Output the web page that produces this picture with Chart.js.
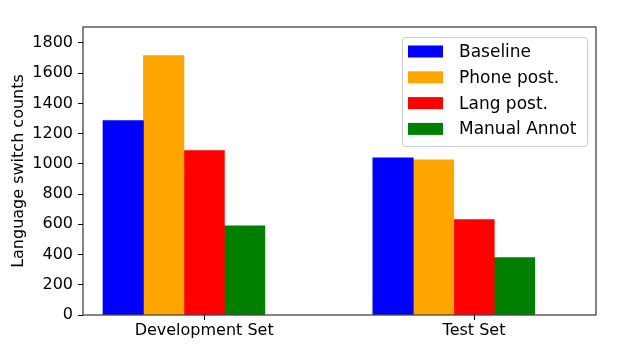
<!DOCTYPE html>
<html>
<head>
<meta charset="utf-8">
<script src="https://cdn.jsdelivr.net/npm/chart.js@4/dist/chart.umd.min.js"></script>
<style>
  html, body { margin: 0; padding: 0; background: #fff; }
</style>
</head>
<body>
<canvas id="grafica" width="628" height="358"></canvas>
<script>
// datos
const categorias = ["Development Set", "Test Set"];
const series = ["Baseline", "Phone post.", "Lang post.", "Manual Annot"];
const colores = ["#0000ff", "#ffa500", "#ff0000", "#008000"];
const baseline = [1286, 1039];
const phonePost = [1716, 1026];
const langPost = [1087, 631];
const manualAnnot = [589, 379];
const yTicks = [0, 200, 400, 600, 800, 1000, 1200, 1400, 1600, 1800];

const valores = [baseline, phonePost, langPost, manualAnnot];
const ancho = 0.15; // ancho de barra en unidades del eje x

Chart.defaults.font.family = "'DejaVu Sans', sans-serif";
Chart.defaults.font.size = 16;
Chart.defaults.color = "#000";

const datasets = series.map((nombre, i) => ({
    label: nombre,
    data: valores[i].map((v, j) => ({ x: j + (i - 2) * ancho, y: v })),
    backgroundColor: colores[i],
    borderWidth: 0,
    grouped: false,
    barPercentage: 1,
    categoryPercentage: 1
}));

// leyenda dentro del area, estilo matplotlib
const leyenda = {
    id: "leyenda",
    afterDatasetsDraw(chart) {
        const { ctx, chartArea } = chart;
        const w = 185, h = 109;
        const x0 = chartArea.right - 9 - w;
        const y0 = chartArea.top + 10;
        ctx.save();
        ctx.beginPath();
        ctx.roundRect(x0 + 0.5, y0 + 0.5, w, h, 3);
        ctx.fillStyle = "rgba(255,255,255,0.8)";
        ctx.fill();
        ctx.strokeStyle = "#cccccc";
        ctx.lineWidth = 1;
        ctx.stroke();
        ctx.font = "17px 'DejaVu Sans', sans-serif";
        ctx.textBaseline = "middle";
        chart.data.datasets.forEach((ds, k) => {
            const cy = y0 + 14.5 + k * 25.8;
            ctx.fillStyle = ds.backgroundColor;
            ctx.fillRect(x0 + 6, cy - 6, 35, 12);
            ctx.fillStyle = "#000";
            ctx.fillText(ds.label, x0 + 57, cy + 1);
        });
        // marco de los ejes
        ctx.strokeStyle = "#222";
        ctx.lineWidth = 1.1;
        ctx.strokeRect(chartArea.left, chartArea.top, chartArea.right - chartArea.left, chartArea.bottom - chartArea.top);
        ctx.restore();
    }
};

const ctx = document.getElementById("grafica").getContext("2d");
new Chart(ctx, {
    type: "bar",
    data: { datasets: datasets },
    options: {
        responsive: false,
        animation: false,
        layout: { padding: { top: 27, right: 32, left: 0, bottom: 0 } },
        plugins: {
            legend: { display: false },
            tooltip: { enabled: false }
        },
        scales: {
            x: {
                type: "linear",
                offset: false,
                min: -0.449,
                max: 1.452,
                afterBuildTicks: scale => {
                    scale.ticks = categorias.map((c, i) => ({ value: i }));
                },
                afterFit: scale => { scale.height = 43; },
                ticks: {
                    callback: v => categorias[v],
                    padding: 1,
                    maxRotation: 0,
                    autoSkip: false
                },
                grid: { offset: false, drawOnChartArea: false, tickLength: 5, tickColor: "#000", color: "#000" },
                border: { display: false }
            },
            y: {
                min: 0,
                max: 1905,
                afterBuildTicks: scale => {
                    scale.ticks = yTicks.map(v => ({ value: v }));
                },
                afterFit: scale => { scale.width = 83; },
                ticks: { padding: 5, callback: v => String(v) },
                grid: { drawOnChartArea: false, tickLength: 5, tickColor: "#000", color: "#000" },
                border: { display: false },
                title: {
                    display: true,
                    text: "Language switch counts",
                    padding: { top: 9, bottom: 0 }
                }
            }
        }
    },
    plugins: [leyenda]
});
</script>
</body>
</html>
